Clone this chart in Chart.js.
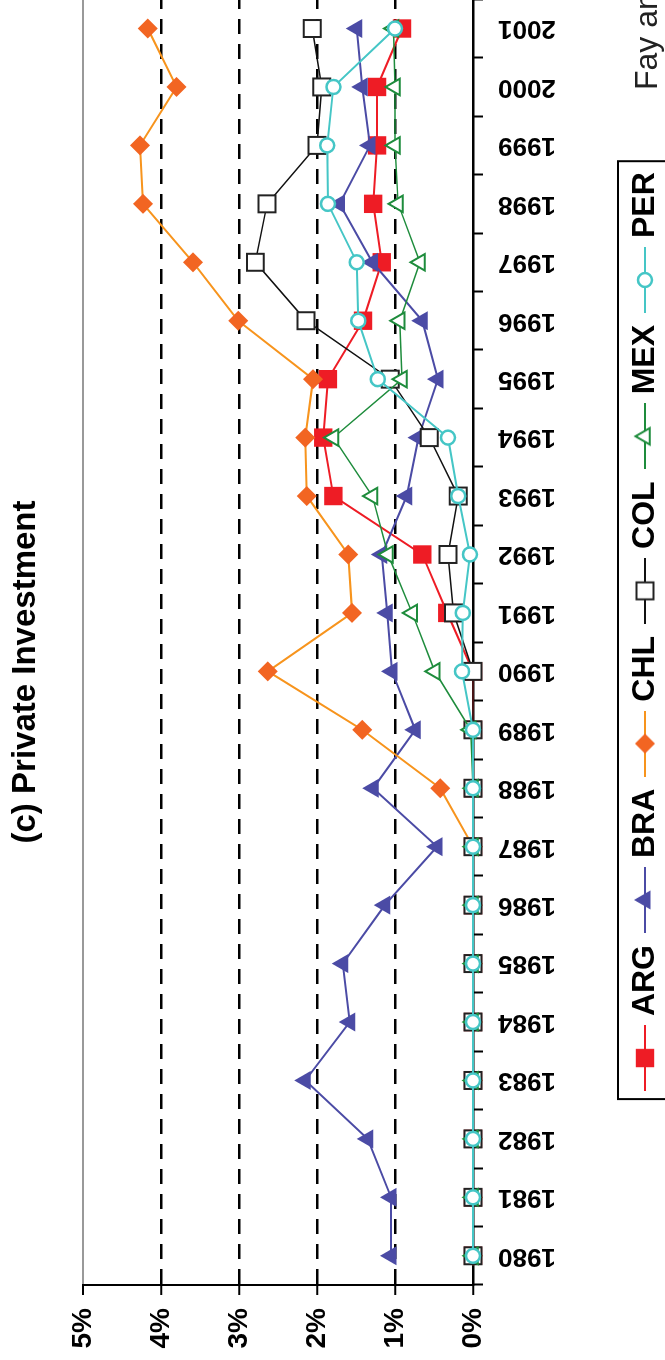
<!DOCTYPE html>
<html>
<head>
<meta charset="utf-8">
<script src="https://cdn.jsdelivr.net/npm/chart.js@4.4.1/dist/chart.umd.min.js"></script>
<style>
html, body { margin:0; padding:0; background:#fff; overflow:hidden; width:665px; height:1360px; }
/* the chart is drawn landscape and turned a quarter turn, like the scanned page */
#wrap { position:absolute; left:0; top:0; width:1378px; height:671px; transform-origin:0 0; transform:translate(0px,1360px) rotate(-90deg); }
</style>
</head>
<body>
<div id="wrap"><canvas id="grafico" width="1378" height="671"></canvas></div>
<script>
// years
var years = ["1980","1981","1982","1983","1984","1985","1986","1987","1988","1989","1990",
             "1991","1992","1993","1994","1995","1996","1997","1998","1999","2000","2001"];

// private investment, % of GDP
var ARG = [0,0,0,0,0,0,0,0,0,0,0, 0.33,0.65,1.79,1.92,1.86,1.41,1.17,1.28,1.23,1.23,0.91];
var BRA = [1.05,1.05,1.35,2.15,1.58,1.67,1.13,0.46,1.28,0.74,1.04,1.10,1.17,0.85,0.70,0.45,0.65,1.29,1.71,1.32,1.42,1.49];
var CHL = [0,0,0,0,0,0,0,0,0.42,1.42,2.63,1.55,1.60,2.13,2.15,2.05,3.01,3.59,4.23,4.27,3.80,4.17];
var COL = [0,0,0,0,0,0,0,0,0,0,0, 0.25,0.32,0.19,0.56,1.06,2.14,2.79,2.64,2.00,1.94,2.06];
var MEX = [0,0,0,0,0,0,0,0,0,0.03,0.49,0.78,1.09,1.29,1.79,0.91,0.94,0.68,0.96,1.00,1.00,1.02];
var PER = [0,0,0,0,0,0,0,0,0,0,0.14,0.13,0.04,0.19,0.32,1.22,1.47,1.49,1.86,1.87,1.79,1.00];

// y ticks
var yTicks = [0,1,2,3,4,5];

Chart.defaults.font.family = '"Liberation Sans", Arial, Helvetica, sans-serif';
Chart.defaults.color = '#000';

var series = [
  {label:'ARG', data:ARG, borderColor:'#ee1c25', borderWidth:2, pointStyle:'rect', pointRadius:13,
   pointBackgroundColor:'#ee1c25', pointBorderColor:'#ee1c25', pointBorderWidth:0, order:6},
  {label:'BRA', data:BRA, borderColor:'#4b4ba5', borderWidth:2, pointStyle:'triangle', pointRadius:11,
   pointBackgroundColor:'#4b4ba5', pointBorderColor:'#4b4ba5', pointBorderWidth:0, order:5},
  {label:'CHL', data:CHL, borderColor:'#f7941d', borderWidth:2, pointStyle:'rectRot', pointRadius:10,
   pointBackgroundColor:'#f26522', pointBorderColor:'#f26522', pointBorderWidth:0, order:4},
  {label:'COL', data:COL, borderColor:'#111', borderWidth:1.5, pointStyle:'rect', pointRadius:12,
   pointBackgroundColor:'#fff', pointBorderColor:'#222', pointBorderWidth:2, order:3},
  {label:'MEX', data:MEX, borderColor:'#1e8c3c', borderWidth:1.5, pointStyle:'triangle', pointRadius:9.5,
   pointBackgroundColor:'#fff', pointBorderColor:'#1e8c3c', pointBorderWidth:2, order:2},
  {label:'PER', data:PER, borderColor:'#45c6c6', borderWidth:2, pointStyle:'circle', pointRadius:7,
   pointBackgroundColor:'#fff', pointBorderColor:'#45c6c6', pointBorderWidth:2.5, order:1}
];
series.forEach(function(s){ s.tension = 0; s.clip = false; s.backgroundColor = s.pointBackgroundColor; });

// legend symbol: short line with the marker on it
function legendIcon(ds) {
  var c = document.createElement('canvas');
  c.width = 66; c.height = 30;
  var ctx = c.getContext('2d');
  ctx.strokeStyle = ds.borderColor; ctx.lineWidth = 2;
  ctx.beginPath(); ctx.moveTo(0, 15); ctx.lineTo(66, 15); ctx.stroke();
  ctx.fillStyle = ds.pointBackgroundColor;
  ctx.strokeStyle = ds.pointBorderColor;
  ctx.lineWidth = ds.pointBorderWidth;
  Chart.helpers.drawPoint(ctx, {pointStyle:ds.pointStyle, radius:ds.pointRadius, rotation:0, borderWidth:ds.pointBorderWidth}, 33, 15);
  return c;
}
var icons = series.map(legendIcon);

// legend sits a little right of centre in the original
var legendShift = 14;

// box around the legend and the source line
var frame = {
  id: 'frame',
  afterUpdate: function(chart) {
    var lg = chart.legend;
    lg.left += legendShift; lg.right += legendShift;
    lg.legendHitBoxes.forEach(function(h){ h.left += legendShift; });
  },
  afterDraw: function(chart) {
    var ctx = chart.ctx, lg = chart.legend, hb = lg.legendHitBoxes;
    var first = hb[0], last = hb[hb.length - 1];
    var cy = lg.top + 19 + 16;
    var x0 = first.left - 15, x1 = last.left + last.width + 11;
    ctx.save();
    ctx.strokeStyle = '#000'; ctx.lineWidth = 2;
    ctx.strokeRect(x0, cy - 27, x1 - x0, 80);
    ctx.fillStyle = '#222';
    ctx.font = '32px "Liberation Sans", Arial, sans-serif';
    ctx.textBaseline = 'middle'; ctx.textAlign = 'left';
    ctx.fillText('Fay and Morrison (2005)', 1270, 648);
    ctx.restore();
  }
};

new Chart(document.getElementById('grafico'), {
  type: 'line',
  data: { labels: years, datasets: series },
  plugins: [frame],
  options: {
    responsive: false,
    animation: false,
    layout: { padding: { left:0, right:2, top:0, bottom:0 } },
    plugins: {
      title: { display:true, text:'(c) Private Investment', color:'#000',
               font:{ size:33, weight:'bold', lineHeight:1 }, padding:{ top:9, bottom:41 } },
      legend: {
        position:'bottom', fullSize:false,
        labels: {
          usePointStyle:true, pointStyleWidth:52, padding:19, color:'#000',
          font:{ size:32, weight:'bold' },
          generateLabels: function(chart) {
            return chart.data.datasets.map(function(ds, i) {
              return { text:ds.label, pointStyle:icons[i], datasetIndex:i, fontColor:'#000', lineWidth:0,
                       hidden:false, fillStyle:'rgba(0,0,0,0)', strokeStyle:'rgba(0,0,0,0)' };
            });
          }
        }
      },
      tooltip: { enabled:false }
    },
    scales: {
      x: {
        type:'category', offset:true,
        afterFit: function(s) { s.height = 137; },
        grid: { offset:true, drawOnChartArea:false, tickLength:10, tickColor:'#000', tickWidth:2 },
        border: { color:'#000', width:2 },
        ticks: { autoSkip:false, minRotation:90, maxRotation:90, padding:15, color:'#000',
                 font:{ size:26, weight:'bold' } }
      },
      y: {
        min:0, max:5,
        afterFit: function(s) { s.width = 75; },
        afterBuildTicks: function(s) { s.ticks = yTicks.map(function(v){ return {value:v}; }); },
        grid: {
          color: function(c) { return c.tick && c.tick.value === 5 ? '#999' : '#000'; },
          lineWidth: function(c) { return c.tick && c.tick.value === 5 ? 2 : 2.5; },
          tickLength:10, tickColor:'#000', tickWidth:2
        },
        border: {
          color:'#000', width:2,
          dash: function(c) { return c.tick && (c.tick.value === 0 || c.tick.value === 5) ? [] : [15, 10]; }
        },
        ticks: { padding:13, color:'#000', font:{ size:28, weight:'bold' },
                 callback: function(v) { return v + '%'; } }
      }
    }
  }
});
</script>
</body>
</html>
